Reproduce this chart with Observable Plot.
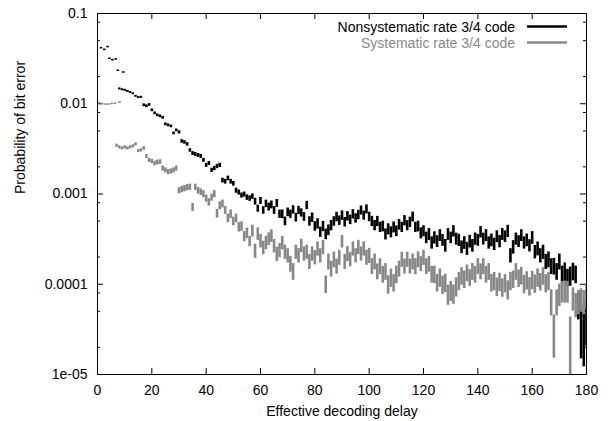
<!DOCTYPE html>
<html>
<head>
<meta charset="utf-8">
<script src="https://cdn.jsdelivr.net/npm/d3@7"></script>
<script src="https://cdn.jsdelivr.net/npm/@observablehq/plot@0.6"></script>
<style>
  html, body { margin: 0; padding: 0; background: #fff; }
  #chart { width: 608px; height: 421px; }
</style>
</head>
<body>
<div id="chart"></div>
<script>
// ---- Data ----
const seriesNames = ["Nonsystematic rate 3/4 code", "Systematic rate 3/4 code"];
const seriesColors = ["#000000", "#888888"];

// Nonsystematic: first short run
const blackX1 = [1.3, 2.5, 3.7, 4.4, 5.5, 6.7, 7.5, 9.5];
const blackY1 = [0.0413, 0.0396, 0.0425, 0.0315, 0.0304, 0.031, 0.0232, 0.0222];
const blackE1 = [0.02, 0.02, 0.02, 0.02, 0.02, 0.02, 0.02, 0.02];

// Nonsystematic: delays 8..180
const blackX2 = d3.range(8, 181);
const blackY2 = [
  0.0146, 0.0143, 0.0141, 0.0137, 0.0133, 0.0129, 0.0121, 0.0117, 0.0118, 0.00963,
  0.00938, 0.0097, 0.00847, 0.00784, 0.00745, 0.00726, 0.00699, 0.00592, 0.00577, 0.00562,
  0.0047, 0.00507, 0.00482, 0.00383, 0.00373, 0.00355, 0.00304, 0.00281, 0.00275, 0.00268,
  0.00261, 0.00236, 0.00208, 0.00218, 0.00183, 0.00192, 0.00202, 0.00208, 0.00141, 0.00137,
  0.00149, 0.00137, 0.0013, 0.00109, 0.00104, 0.000963, 0.000987, 0.000914, 0.000891, 0.000938,
  0.000825, 0.00069, 0.00084, 0.00066, 0.00078, 0.00072, 0.00076, 0.00066, 0.00079, 0.0006,
  0.0006, 0.0005, 0.00063, 0.0006, 0.00067, 0.00055, 0.00066, 0.00062, 0.00056, 0.00075,
  0.0005, 0.00055, 0.00044, 0.00047, 0.00038, 0.00044, 0.00036, 0.0004, 0.00045, 0.0005,
  0.00056, 0.00051, 0.00058, 0.00049, 0.00057, 0.00052, 0.0006, 0.00054, 0.00059, 0.00066,
  0.00058, 0.00068, 0.00056, 0.0005, 0.00045, 0.0005, 0.00043, 0.00044, 0.00036, 0.00041,
  0.00038, 0.00043, 0.00039, 0.00046, 0.00043, 0.00051, 0.00045, 0.00049, 0.00056, 0.00043,
  0.00044, 0.00037, 0.00039, 0.00033, 0.00036, 0.00029, 0.00033, 0.0003, 0.00035, 0.00031,
  0.00027, 0.00036, 0.00033, 0.00039, 0.00032, 0.00031, 0.00026, 0.00029, 0.00025, 0.0003,
  0.00027, 0.00032, 0.00031, 0.00038, 0.00032, 0.00035, 0.00029, 0.00031, 0.00028, 0.00034,
  0.0003, 0.00036, 0.00034, 0.00039, 0.00021, 0.00026, 0.00032, 0.0003, 0.00035, 0.00029,
  0.00031, 0.00027, 0.00033, 0.00023, 0.00025, 0.00021, 0.00023, 0.00018, 0.00019, 0.00016,
  0.00016, 0.00014, 0.00018, 0.00013, 0.00014, 0.00012, 0.000125, 0.00014, 0.00013, 6.2e-5,
  3.73e-5, 3.04e-5, 4.13e-5
];
const blackE2 = [
  .025, .025, .025, .025, .025, .025, .025, .025, .025, .035,
  .035, .035, .035, .035, .035, .035, .035, .035, .035, .035,
  .035, .035, .04, .045, .045, .045, .045, .05, .05, .05,
  .05, .05, .05, .05, .055, .055, .055, .055, .06, .06,
  .06, .06, .06, .065, .065, .065, .065, .07, .07, .07,
  .085, .09, .09, .095, .095, .1, .1, .1, .1, .105,
  .11, .11, .11, .105, .105, .11, .105, .105, .11, .105,
  .12, .12, .12, .13, .13, .13, .135, .135, .13, .12,
  .12, .12, .12, .12, .12, .12, .12, .12, .12, .115,
  .115, .115, .12, .13, .13, .13, .13, .135, .14, .14,
  .14, .14, .135, .135, .13, .13, .13, .13, .125, .13,
  .135, .14, .14, .145, .15, .155, .155, .15, .15, .15,
  .16, .15, .145, .145, .15, .155, .16, .16, .165, .16,
  .16, .155, .15, .145, .15, .15, .155, .16, .155, .15,
  .155, .15, .145, .155, .18, .17, .155, .15, .15, .155,
  .16, .155, .16, .17, .175, .18, .18, .19, .2, .2,
  .21, .21, .2, .22, .23, .22, .24, .22, .22, .35,
  .6, .6, .5
];

// Systematic: first short run
const grayX1 = [0.6, 1.7, 2.9, 4.0, 5.2, 6.4, 8.1];
const grayY1 = [0.0101, 0.00995, 0.0098, 0.0098, 0.00995, 0.01, 0.0103];
const grayE1 = [0.02, 0.02, 0.02, 0.02, 0.02, 0.02, 0.02];

// Systematic: delays 7..180
const grayX2 = d3.range(7, 181);
const grayY2 = [
  0.00343, 0.00329, 0.0032, 0.00329, 0.0032, 0.00329, 0.00337, 0.00355, 0.00299, 0.00304,
  0.0032, 0.00261, 0.00236, 0.0023, 0.00218, 0.00224, 0.00226, 0.00192, 0.00183, 0.00175,
  0.00178, 0.00183, 0.00192, 0.00109, 0.00112, 0.00115, 0.00118, 0.00119, 0.000713, 0.00119,
  0.00109, 0.00105, 0.001, 0.000891, 0.000811, 0.000914, 0.001, 0.000607, 0.000745, 0.000778,
  0.00066, 0.00054, 0.0006, 0.0005, 0.00054, 0.00043, 0.00044, 0.00034, 0.00037, 0.0003,
  0.000393, 0.000236, 0.000364, 0.000304, 0.000256, 0.000291, 0.00032, 0.000346, 0.000268, 0.000218,
  0.00024, 0.00029, 0.00023, 0.00021, 0.00017, 0.00014, 0.00023, 0.00021, 0.00027, 0.00022,
  0.00023, 0.00018, 0.00022, 0.0002, 0.00025, 0.00021, 0.00026, 0.000101, 0.00018, 0.00015,
  0.00019, 0.00016, 0.0002, 0.0003, 0.00018, 0.00022, 0.00019, 0.00025, 0.00021, 0.00026,
  0.00022, 0.00025, 0.0002, 0.00021, 0.00016, 0.00018, 0.00014, 0.00016, 0.00013, 0.00014,
  0.000101, 0.00012, 0.000105, 0.00013, 0.00015, 0.00019, 0.00016, 0.00019, 0.00016, 0.00018,
  0.00016, 0.00019, 0.00017, 0.0002, 0.00016, 0.00017, 0.00013, 0.00013, 0.000105, 0.00012,
  0.0001, 0.000105, 7.8e-5, 8.6e-5, 7.9e-5, 9.5e-5, 0.00011, 0.000125, 0.000115, 0.000135,
  0.00012, 0.00014, 0.00013, 0.00016, 0.00014, 0.00016, 0.00013, 0.00014, 0.000105, 0.00011,
  9.5e-5, 0.000108, 9.3e-5, 0.000104, 8.8e-5, 0.00011, 0.000115, 0.00014, 0.000118, 0.000126,
  0.000102, 0.000112, 9.6e-5, 0.000113, 0.000103, 0.00012, 0.000108, 0.000125, 0.000104, 0.00011,
  6.56e-5, 3.04e-5, 6.56e-5, 7.84e-5, 8.47e-5, 8.47e-5, 8.47e-5, 2.54e-5, 7.08e-5, 6.07e-5,
  6.56e-5, 6.9e-5, 6.56e-5, 7.45e-5
];
const grayE2 = [
  .04, .04, .04, .04, .04, .04, .04, .04, .04, .04,
  .045, .05, .055, .055, .06, .06, .06, .065, .065, .065,
  .065, .065, .065, .08, .08, .08, .08, .08, .1, .08,
  .085, .085, .09, .09, .095, .09, .09, .11, .1, .1,
  .1, .11, .11, .11, .11, .12, .12, .13, .13, .13,
  .15, .18, .16, .17, .17, .17, .16, .16, .17, .18,
  .18, .17, .18, .18, .2, .21, .18, .18, .17, .18,
  .18, .19, .18, .18, .18, .18, .18, .22, .2, .2,
  .2, .19, .19, .16, .19, .19, .18, .18, .18, .18,
  .18, .18, .19, .19, .2, .2, .2, .2, .21, .21,
  .23, .23, .22, .22, .2, .19, .19, .19, .19, .2,
  .2, .2, .19, .19, .2, .2, .21, .22, .22, .23,
  .23, .23, .25, .25, .24, .24, .23, .22, .22, .21,
  .21, .21, .21, .2, .2, .2, .21, .21, .22, .23,
  .23, .23, .23, .23, .24, .23, .22, .21, .22, .22,
  .23, .23, .23, .23, .23, .23, .22, .22, .23, .23,
  .32, .5, .32, .28, .27, .27, .27, .7, .29, .3,
  .3, .29, .3, .29
];

// Axis ticks
const xTicks = [0, 20, 40, 60, 80, 100, 120, 140, 160, 180];
const yMajor = [1e-5, 1e-4, 1e-3, 1e-2, 1e-1];
const yMajorLabels = ["1e-05", "0.0001", "0.001", "0.01", "0.1"];
const yMinor = [2e-5, 5e-5, 8e-5, 2e-4, 5e-4, 8e-4, 2e-3, 5e-3, 8e-3, 2e-2, 5e-2, 8e-2];
const xLabel = "Effective decoding delay";
const yLabel = "Probability of bit error";

// ---- Build tables ----
function rows(xs, ys, es) {
  return xs.map((x, i) => ({x, y: ys[i], lo: ys[i] * (1 - es[i]), hi: ys[i] * (1 + es[i])}));
}
const black = rows(blackX1, blackY1, blackE1).concat(rows(blackX2, blackY2, blackE2));
const gray = rows(grayX1, grayY1, grayE1).concat(rows(grayX2, grayY2, grayE2));

// ---- Layout ----
const W = 608, H = 421;
const mL = 97, mR = 22, mT = 13, mB = 47;
const fw = W - mL - mR, fh = H - mT - mB;
const font = "'Liberation Sans', Arial, Helvetica, sans-serif";

const chart = Plot.plot({
  width: W,
  height: H,
  marginLeft: mL,
  marginRight: mR,
  marginTop: mT,
  marginBottom: mB,
  style: {fontFamily: font, fontSize: "14px", background: "#fff", color: "#000"},
  x: {domain: [0, 180], axis: null},
  y: {type: "log", domain: [1e-5, 0.1], axis: null},
  marks: [
    // ticks (inward, mirrored)
    Plot.tickX(xTicks, {x: d => d, insetTop: fh - 6, stroke: "#000"}),
    Plot.tickX(xTicks, {x: d => d, insetBottom: fh - 6, stroke: "#000"}),
    Plot.tickY(yMajor, {y: d => d, insetRight: fw - 6, stroke: "#000"}),
    Plot.tickY(yMajor, {y: d => d, insetLeft: fw - 6, stroke: "#000"}),
    Plot.tickY(yMinor, {y: d => d, insetRight: fw - 3, stroke: "#000"}),
    Plot.tickY(yMinor, {y: d => d, insetLeft: fw - 3, stroke: "#000"}),
    // tick labels
    Plot.text(xTicks, {x: d => d, frameAnchor: "bottom", dy: 16, text: d => String(d), fontSize: 14, lineAnchor: "middle", fill: "#000"}),
    Plot.text(yMajor, {y: d => d, frameAnchor: "left", dx: -10, textAnchor: "end", text: (d, i) => yMajorLabels[i], fontSize: 14, lineAnchor: "middle", fill: "#000"}),
    // axis titles
    Plot.text([xLabel], {frameAnchor: "bottom", dy: 37, text: d => d, fontSize: 14, lineAnchor: "middle", fill: "#000"}),
    Plot.text([yLabel], {frameAnchor: "left", dx: -77, rotate: -90, text: d => d, fontSize: 14, lineAnchor: "middle", fill: "#000"}),
    // data: error bars
    Plot.ruleX(black, {x: "x", y1: "lo", y2: "hi", stroke: seriesColors[0], strokeWidth: 2.6, clip: true}),
    Plot.ruleX(gray, {x: "x", y1: "lo", y2: "hi", stroke: seriesColors[1], strokeWidth: 2.6, clip: true}),
    Plot.frame({stroke: "#000", strokeWidth: 1})
  ]
});

// legend (inside, top right)
const svg = d3.select(chart);
const lg = svg.append("g").attr("font-family", font).attr("font-size", 14);
const legendRowsY = [26.5, 42.5];
seriesNames.forEach((name, i) => {
  lg.append("text")
    .attr("x", 515).attr("y", legendRowsY[i]).attr("dy", "0.36em")
    .attr("text-anchor", "end").attr("fill", seriesColors[i]).text(name);
  lg.append("line")
    .attr("x1", 527).attr("x2", 567).attr("y1", legendRowsY[i]).attr("y2", legendRowsY[i])
    .attr("stroke", seriesColors[i]).attr("stroke-width", 2.6);
});

document.getElementById("chart").appendChild(chart);
</script>
</body>
</html>
